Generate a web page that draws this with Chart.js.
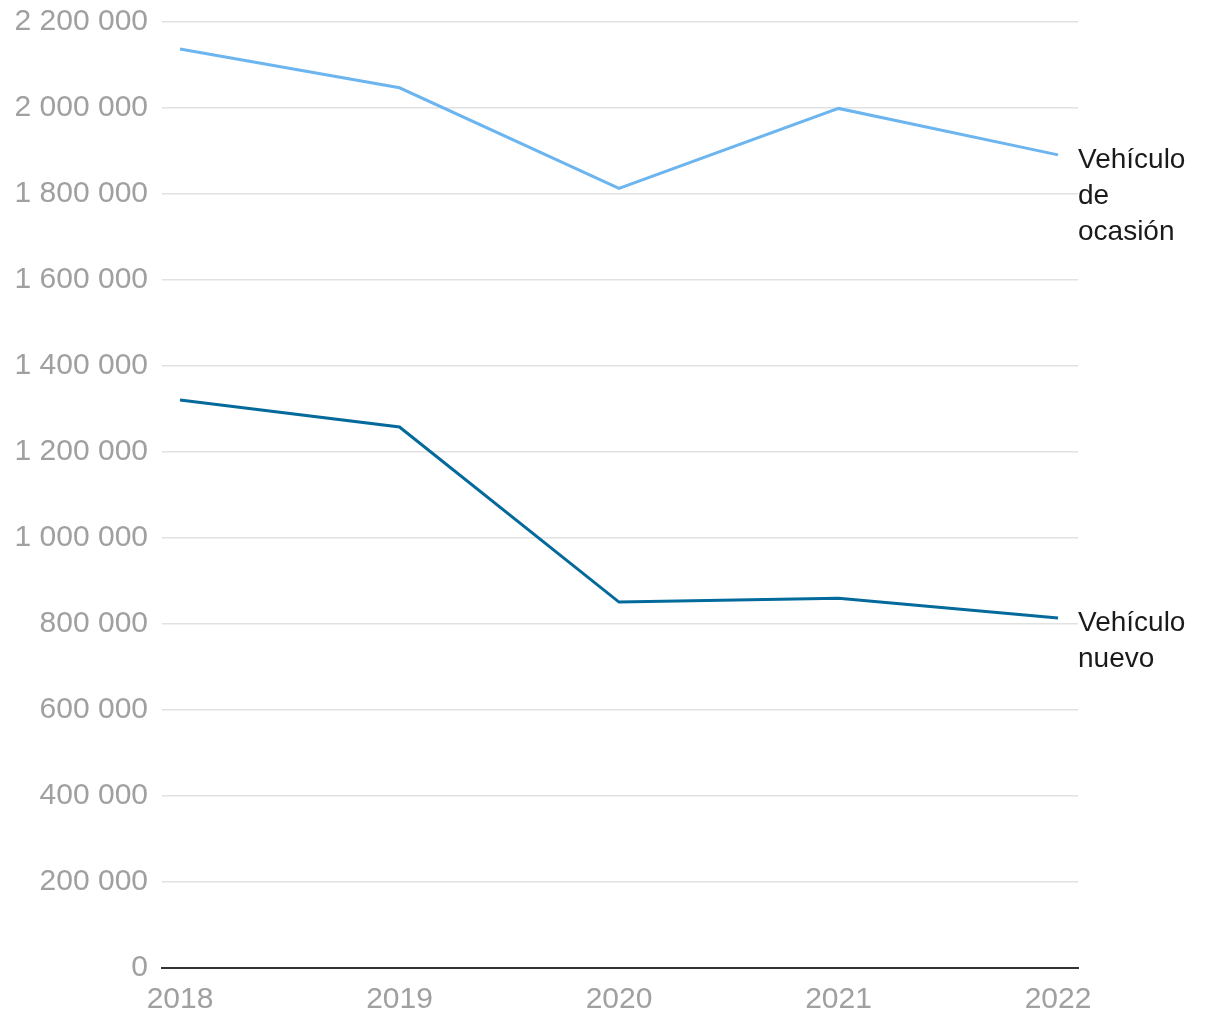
<!DOCTYPE html>
<html>
<head>
<meta charset="utf-8">
<script src="https://cdn.jsdelivr.net/npm/chart.js@4"></script>
<style>
  html, body { margin: 0; padding: 0; background: #fff; }
  #wrap { width: 1220px; height: 1020px; }
</style>
</head>
<body>
<div id="wrap"><canvas id="chart" width="1220" height="1020"></canvas></div>
<script>
const years = [2018, 2019, 2020, 2021, 2022];
const ocasion = [2137000, 2047000, 1813000, 1999000, 1891000];
const nuevo = [1321000, 1258000, 851000, 860000, 814000];
const yTicks = [0, 200000, 400000, 600000, 800000, 1000000, 1200000, 1400000, 1600000, 1800000, 2000000, 2200000];
const seriesLabels = [['Vehículo', 'de', 'ocasión'], ['Vehículo', 'nuevo']];

const tickFont = { family: 'Liberation Sans', size: 30 };

function fmt(v) {
    return String(v).replace(/\B(?=(\d{3})+(?!\d))/g, ' ');
}

// labels at the end of each line
const endLabels = {
    id: 'endLabels',
    afterDatasetsDraw(chart) {
        const ctx = chart.ctx;
        ctx.save();
        ctx.font = '28px "Liberation Sans"';
        ctx.fillStyle = '#1a1a1a';
        ctx.textBaseline = 'middle';
        ctx.textAlign = 'left';
        chart.data.datasets.forEach((ds, i) => {
            const pts = chart.getDatasetMeta(i).data;
            const last = pts[pts.length - 1];
            seriesLabels[i].forEach((line, j) => {
                ctx.fillText(line, chart.chartArea.right, last.y + 5 + j * 36);
            });
        });
        ctx.restore();
    }
};

new Chart(document.getElementById('chart'), {
    type: 'line',
    data: {
        datasets: [
            {
                data: years.map((y, i) => ({ x: y, y: ocasion[i] })),
                borderColor: '#6db5ef',
                borderWidth: 3,
                pointRadius: 0,
                tension: 0
            },
            {
                data: years.map((y, i) => ({ x: y, y: nuevo[i] })),
                borderColor: '#04699b',
                borderWidth: 3,
                pointRadius: 0,
                tension: 0
            }
        ]
    },
    options: {
        responsive: false,
        animation: false,
        layout: { padding: { top: 22, right: 142, left: 0, bottom: 0 } },
        plugins: { legend: { display: false }, tooltip: { enabled: false } },
        scales: {
            x: {
                type: 'linear',
                min: 2017.918,
                max: 2022.091,
                afterBuildTicks: s => { s.ticks = years.map(v => ({ value: v })); },
                afterFit: s => { s.height = 52; s.paddingLeft = 0; s.paddingRight = 0; },
                grid: { display: false, drawTicks: false },
                border: { display: true, color: '#333333', width: 2 },
                ticks: {
                    color: '#a0a0a0',
                    font: tickFont,
                    padding: 14,
                    maxRotation: 0,
                    autoSkip: false,
                    callback: v => String(v)
                }
            },
            y: {
                min: 0,
                max: 2200000,
                afterBuildTicks: s => { s.ticks = yTicks.map(v => ({ value: v })); },
                afterFit: s => { s.width = 162; s.paddingTop = 0; s.paddingBottom = 0; },
                border: { display: false },
                grid: {
                    drawTicks: false,
                    color: ctx => ctx.tick && ctx.tick.value === 0 ? 'rgba(0,0,0,0)' : '#e2e2e2',
                    lineWidth: 1.5
                },
                ticks: {
                    color: '#a0a0a0',
                    font: tickFont,
                    padding: 14,
                    callback: v => fmt(v)
                }
            }
        }
    },
    plugins: [endLabels]
});
</script>
</body>
</html>
